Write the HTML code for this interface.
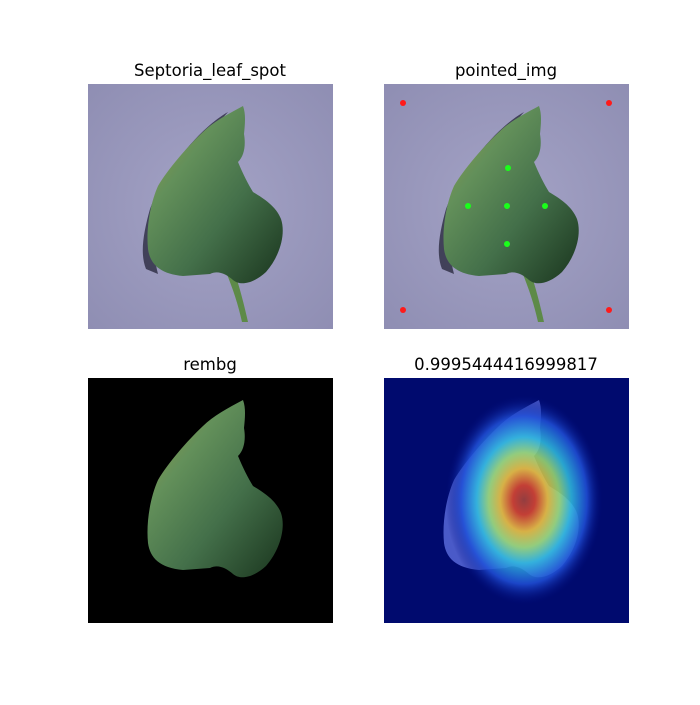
<!DOCTYPE html>
<html><head><meta charset="utf-8"><style>
body{margin:0;background:#fff;}
svg text{font-family:"DejaVu Sans","Liberation Sans",sans-serif;font-size:16.5px;fill:#000;}
</style></head><body>
<svg width="700" height="700" viewBox="0 0 700 700" xmlns="http://www.w3.org/2000/svg">
<defs>
<path id="leaf" d="M155,22 C140,30 125,38 115,48 C100,62 80,85 70,102 C62,120 58,145 60,165 C62,180 72,190 95,192 L122,190 C130,186 138,190 145,196 C152,202 165,200 178,188 C192,172 198,150 193,135 C188,122 175,114 165,108 C160,100 155,90 150,78 C156,72 158,62 156,50 C157,40 158,30 155,22 Z"/>
<path id="stem" d="M138,188 C145,205 150,220 154,238 L160,238 C156,220 152,205 146,186 Z"/>
<linearGradient id="leafg" x1="0" y1="0" x2="1" y2="1">
<stop offset="0" stop-color="#9a9a45"/><stop offset="0.3" stop-color="#63905a"/><stop offset="0.6" stop-color="#44704a"/><stop offset="1" stop-color="#1a351e"/>
</linearGradient>
<radialGradient id="bgg" cx="0.5" cy="0.5" r="0.7">
<stop offset="0" stop-color="#a4a3c6"/><stop offset="1" stop-color="#8f8eb3"/>
</radialGradient>
<radialGradient id="heat" cx="140" cy="122" r="105" gradientUnits="userSpaceOnUse" gradientTransform="translate(140 122) scale(0.75 1) translate(-140 -122)">
<stop offset="0" stop-color="#a03828"/><stop offset="0.14" stop-color="#d83a1c"/><stop offset="0.3" stop-color="#f0c030"/><stop offset="0.45" stop-color="#a0e070"/><stop offset="0.6" stop-color="#30c0e0"/><stop offset="0.8" stop-color="#2050d8"/><stop offset="1" stop-color="#000a7a" stop-opacity="0"/>
</radialGradient>
<clipPath id="c1"><rect width="245" height="245"/></clipPath>
</defs>

<text x="210" y="76" text-anchor="middle">Septoria_leaf_spot</text>
<text x="506" y="76" text-anchor="middle">pointed_img</text>
<text x="210" y="370" text-anchor="middle">rembg</text>
<text x="506" y="370" text-anchor="middle">0.9995444416999817</text>

<g transform="translate(88,84)" clip-path="url(#c1)">
<rect width="245" height="245" fill="url(#bgg)"/>
<path d="M140,28 C110,45 75,90 62,125 C55,150 52,170 58,185 L70,190 C62,160 66,120 90,85 Z" fill="#2a2a40" opacity="0.8"/>
<use href="#stem" fill="#5d8a48"/>
<use href="#leaf" fill="url(#leafg)"/>
</g>

<g transform="translate(384,84)" clip-path="url(#c1)">
<rect width="245" height="245" fill="url(#bgg)"/>
<path d="M140,28 C110,45 75,90 62,125 C55,150 52,170 58,185 L70,190 C62,160 66,120 90,85 Z" fill="#2a2a40" opacity="0.8"/>
<use href="#stem" fill="#5d8a48"/>
<use href="#leaf" fill="url(#leafg)"/>
<g fill="#ff1a1a">
<circle cx="19" cy="19" r="3"/>
<circle cx="225" cy="19" r="3"/>
<circle cx="19" cy="226" r="3"/>
<circle cx="225" cy="226" r="3"/>
</g>
<g fill="#1aff1a">
<circle cx="124" cy="84" r="3"/>
<circle cx="84" cy="122" r="3"/>
<circle cx="123" cy="122" r="3"/>
<circle cx="161" cy="122" r="3"/>
<circle cx="123" cy="160" r="3"/>
</g>
</g>

<g transform="translate(88,378)" clip-path="url(#c1)">
<rect width="245" height="245" fill="#000"/>
<use href="#leaf" fill="url(#leafg)"/>
</g>

<g transform="translate(384,378)" clip-path="url(#c1)">
<rect width="245" height="245" fill="#000a6e"/>
<use href="#leaf" fill="#4a5ac8"/>
<rect width="245" height="245" fill="url(#heat)" opacity="0.85"/>
</g>
</svg>
</body></html>
